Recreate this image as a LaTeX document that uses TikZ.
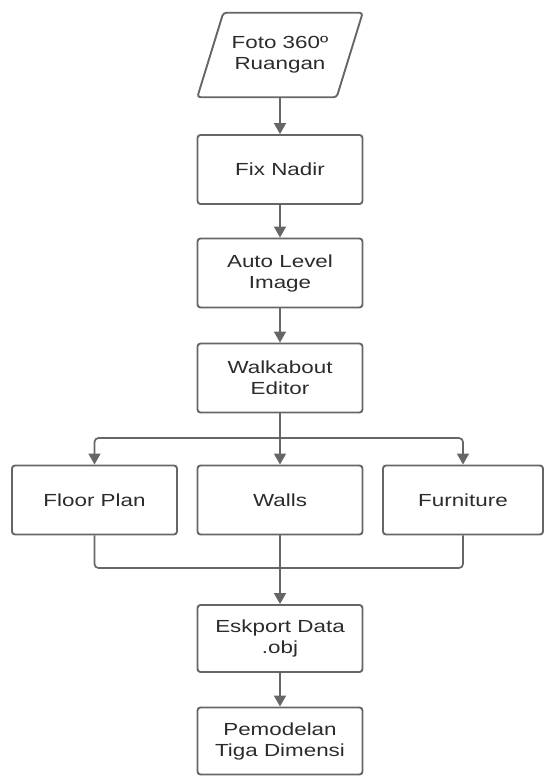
\documentclass[tikz,border=0pt]{standalone}
\usepackage{fontspec}
\setmainfont{Liberation Sans}[FakeStretch=1.28]
\usetikzlibrary{arrows.meta}
\definecolor{ln}{HTML}{666666}
\definecolor{tx}{HTML}{2B2B2B}
\begin{document}
\begin{tikzpicture}[x=1pt,y=-1pt,
  box/.style={draw=ln, line width=1.9pt, rounded corners=3pt, minimum width=165pt, minimum height=69pt,
    align=center, text=tx, font=\fontsize{17.5}{21}\selectfont, inner sep=0pt},
  txt/.style={align=center, text=tx, font=\fontsize{17.5}{21}\selectfont, inner sep=0pt},
  pg/.style={draw=ln, line width=1.9pt, rounded corners=3pt},
  arr/.style={draw=ln, line width=1.7pt, rounded corners=4pt, -{Triangle[length=11pt,width=12pt]}},
  lnk/.style={draw=ln, line width=1.7pt, rounded corners=4pt}]
\useasboundingbox (0,0) rectangle (544,776);

\node[txt, minimum width=139pt, minimum height=84pt] (foto) at (280,55) {Foto 360º\\Ruangan};
\draw[pg] ([xshift=-13pt]foto.south west) -- ([xshift=-13pt]foto.south east)
  -- ([xshift=13pt]foto.north east) -- ([xshift=13pt]foto.north west) -- cycle;

\node[box] (fix) at (280,169.5) {Fix Nadir};
\node[box] (auto) at (280,273) {Auto Level\\Image};
\node[box] (walk) at (280,378) {Walkabout\\Editor};
\node[box] (floor) at (94.5,500) {Floor Plan};
\node[box] (walls) at (280,500) {Walls};
\node[box, minimum width=160pt] (furn) at (463,500) {Furniture};
\node[box, minimum height=67pt] (esk) at (280,638.5) {Eskport Data\\.obj};
\node[box, minimum height=67pt] (pem) at (280,741) {Pemodelan\\Tiga Dimensi};

\coordinate (j1) at (280,438);
\coordinate (j2) at (280,568);

\draw[arr] (foto.south) -- (fix.north);
\draw[arr] (fix.south) -- (auto.north);
\draw[arr] (auto.south) -- (walk.north);
\draw[arr] (walk.south) -- (walls.north);
\draw[arr] (j1) -| (floor.north);
\draw[arr] (j1) -| (furn.north);
\draw[lnk] (floor.south) |- (j2);
\draw[lnk] (furn.south) |- (j2);
\draw[arr] (walls.south) -- (esk.north);
\draw[arr] (esk.south) -- (pem.north);
\end{tikzpicture}
\end{document}
